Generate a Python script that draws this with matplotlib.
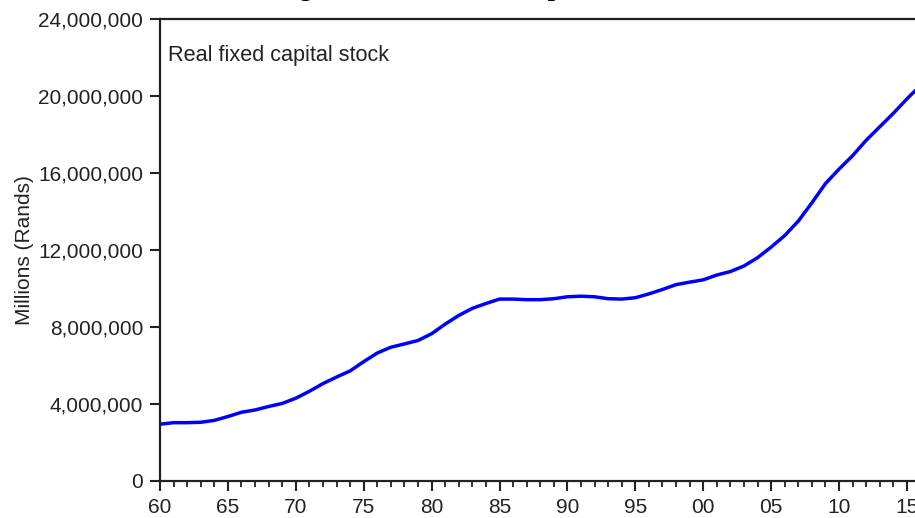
import numpy as np
import matplotlib
matplotlib.use("Agg")
import matplotlib.pyplot as plt
from matplotlib.ticker import FixedLocator, MultipleLocator, FuncFormatter

# === Data (millions of Rands) ===
years = list(range(1960, 2017))
capital_stock = [
    2.95e6, 3.03e6, 3.03e6, 3.05e6, 3.15e6, 3.35e6, 3.57e6, 3.69e6, 3.87e6, 4.03e6,
    4.30e6, 4.66e6, 5.06e6, 5.40e6, 5.72e6, 6.20e6, 6.65e6, 6.95e6, 7.12e6, 7.30e6,
    7.65e6, 8.15e6, 8.60e6, 8.97e6, 9.22e6, 9.45e6, 9.45e6, 9.42e6, 9.42e6, 9.47e6,
    9.57e6, 9.60e6, 9.57e6, 9.47e6, 9.45e6, 9.52e6, 9.72e6, 9.95e6, 10.20e6, 10.33e6,
    10.45e6, 10.70e6, 10.88e6, 11.17e6, 11.60e6, 12.15e6, 12.75e6, 13.50e6, 14.45e6, 15.45e6,
    16.20e6, 16.90e6, 17.70e6, 18.40e6, 19.10e6, 19.85e6, 20.55e6,
]
xtick_years = [1960, 1965, 1970, 1975, 1980, 1985, 1990, 1995, 2000, 2005, 2010, 2015]
xtick_labels = ["60", "65", "70", "75", "80", "85", "90", "95", "00", "05", "10", "15"]
ytick_values = [0, 4e6, 8e6, 12e6, 16e6, 20e6, 24e6]

plt.rcParams['font.family'] = ['Liberation Sans', 'DejaVu Sans']

W, H = 915, 518
fig = plt.figure(figsize=(W / 100, H / 100), dpi=100)
ax = fig.add_axes([160 / W, 37 / H, 760.5 / W, 462 / H])

ax.plot(years, capital_stock, color="#0000ff", linewidth=2.5)

ax.set_xlim(1960, 2016)
ax.set_ylim(0, 24e6)

ax.xaxis.set_major_locator(FixedLocator(xtick_years))
ax.set_xticklabels(xtick_labels)
ax.xaxis.set_minor_locator(MultipleLocator(1))
ax.set_yticks(ytick_values)
ax.yaxis.set_major_formatter(FuncFormatter(lambda v, p: f"{int(v):,}"))

ax.tick_params(axis="both", which="major", direction="out", length=7, width=1.5,
               labelsize=15, colors="#222222", pad=5)
ax.tick_params(axis="x", which="minor", direction="out", length=4, width=1.3, colors="#222222")
for s in ax.spines.values():
    s.set_linewidth(1.6)
    s.set_color("#222222")

ax.set_ylabel("Millions (Rands)", fontsize=15, color="#222222")
ax.yaxis.set_label_coords(-(160 - 25) / 760.5, 1 - (250 - 19) / 462)
ax.yaxis.label.set_va("center")

ax.text((168 - 160) / 760.5, 1 - (45 - 19) / 462, "Real fixed capital stock",
        transform=ax.transAxes, fontsize=15.6, color="#222222", va="top", ha="left")

# title of the source figure, cropped off at the top edge
fig.text(276 / W, 1 + 4 / H, "Figure 4.1: Real fixed capital stock",
         family="Liberation Serif", fontweight="bold", fontsize=18.8, va="baseline", ha="left")

fig.savefig("out.png", dpi=100)
